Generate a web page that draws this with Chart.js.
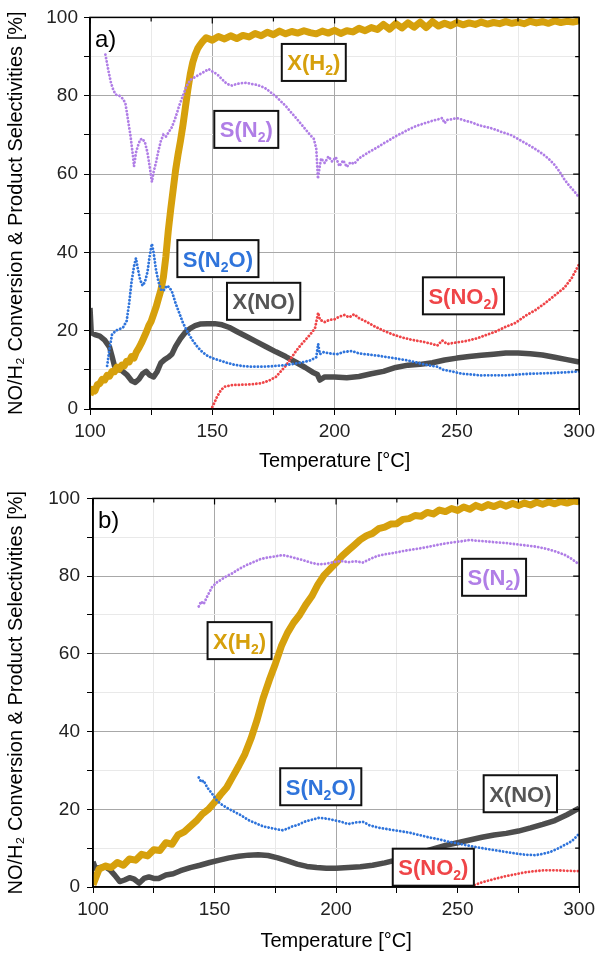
<!DOCTYPE html>
<html>
<head>
<meta charset="utf-8">
<script src="https://cdn.jsdelivr.net/npm/chart.js@4.4.1/dist/chart.umd.min.js"></script>
<style>
  html, body { margin: 0; padding: 0; background: #fff; }
  canvas { display: block; }
</style>
</head>
<body>
<canvas id="chartA" width="600" height="480"></canvas>
<canvas id="chartB" width="600" height="479"></canvas>
<script>
var GOLD = '#D6A00C', GREY = '#4D4D4D', PURPLE = '#B07EE6', BLUE = '#2F74DB', RED = '#EF4548';
var FONT = 'Arial, "Liberation Sans", sans-serif';

var xTicks = [100, 150, 200, 250, 300];
var yTicks = [0, 20, 40, 60, 80, 100];

// ---- panel a) ----
var aH2T = [100,101,102,103,104,105,106,107,108,109,110,111,112,113,114,115,116,117,118,119,120,121,122,123,124,125,126,127,128,129,130,131,132,133,134,135,136,137,138,139,140,141,142,143,144,145,146,
  147.5,150,152.5,155,157.5,160,162.5,165,167.5,170,172.5,175,177.5,180,182.5,185,187.5,190,192.5,195,197.5,200,202.5,205,207.5,210,212.5,215,217.5,220,222.5,225,227.5,230,232.5,235,237.5,240,242.5,245,247.5,250,252.5,255,257.5,260,262.5,265,267.5,270,272.5,275,277.5,280,282.5,285,287.5,290,292.5,295,297.5,300];
var aH2 = [3.6,5.0,4.6,6.2,6.5,7.6,7.4,8.6,8.4,9.6,9.5,10.7,10.2,11.2,11.0,12.2,12.0,13.4,13.0,14.6,15.6,16.8,18.2,19.6,21.2,22.4,24.2,26.0,28.2,30.4,33.6,38.8,45.5,51.0,56.0,61.0,65.0,68.5,72.5,77.0,81.5,85.5,88.5,90.5,92.0,93.0,93.8,
  94.8,94.2,95.1,94.5,95.3,94.6,95.4,95.0,95.9,95.3,96.2,95.6,96.5,95.8,96.4,96.0,96.6,96.1,95.8,96.5,96.0,96.7,95.9,96.6,96.3,97.2,96.6,97.4,96.9,98.2,97.0,98.4,97.3,98.6,97.5,98.8,97.4,98.9,97.8,98.5,97.9,98.7,98.1,98.6,98.2,98.8,98.3,98.7,98.4,98.9,98.5,98.8,98.4,99.0,98.6,98.9,98.5,99.1,98.7,99.0,98.8,99.1];

var aNOT = [100,100.5,102,104,106,108,109,110,111,113,115,117,118.5,120,121.5,123,124.5,126,127.5,129,130.5,132,133.5,135,137,139,141,143,145,148,151,154,157,160,164,168,172,176,180,184,188,191,193,194,196,200,205,210,215,220,225,230,235,240,245,250,255,260,265,270,275,280,285,290,295,300];
var aNO = [25.8,19.5,19.0,18.6,17.6,15.8,13.5,11.0,10.2,9.8,8.8,7.2,6.8,7.6,9.0,9.6,8.6,8.2,9.6,11.8,12.6,13.2,14.0,16.0,18.0,19.6,20.6,21.3,21.7,21.8,21.8,21.5,20.8,19.8,18.5,17.2,15.9,14.6,13.4,12.0,10.6,9.4,8.8,7.4,8.2,8.2,8.0,8.3,9.0,9.6,10.6,11.2,11.4,11.8,12.5,13.0,13.4,13.7,14.0,14.3,14.3,14.1,13.8,13.2,12.6,12.0];

var aN2T = [106.3,107.5,108.5,109.5,110.5,112,113.5,114.5,115.5,116.5,117.5,118,118.8,119.5,120.5,121.5,122.5,123.5,124.5,125.3,126,127,128,129,130,131,132,133.5,135,136.5,138,139.5,141,143,145,147,148.5,150,152,154,156,158,160,162,164,166,168,170,172,174,176,178,180,182,184,186,188,190,191.5,192.5,193.2,193.8,194.5,196,197.5,199,200.5,202,203.5,205,206.5,208,210,212,214,216,218,220,222,224,226,228,230,232,234,236,238,240,242,244,245,246,248,250,252,254,256,258,260,262,264,266,268,270,272,274,276,278,280,282,284,286,288,290,292,294,296,298,300];
var aN2 = [90.5,86.5,83.5,81.5,80.3,80.0,79.2,78.0,74.0,70.0,65.0,62.0,65.5,67.0,68.8,69.0,68.0,65.5,61.5,58.0,60.5,63.0,66.0,68.5,70.0,69.5,70.5,72.0,74.5,77.5,80.0,82.5,84.0,84.8,85.5,86.2,86.8,86.2,85.5,84.2,83.0,82.6,83.0,83.2,83.3,83.0,82.8,82.4,81.8,80.8,79.8,78.6,77.4,75.9,74.5,73.0,71.5,70.0,69.0,66.5,58.8,61.5,64.0,62.8,64.5,63.2,64.3,62.0,63.5,61.8,63.0,62.6,64.0,64.8,65.6,66.3,67.0,67.8,68.5,69.3,70.0,70.6,71.3,71.9,72.4,72.8,73.2,73.6,73.9,74.3,73.0,73.8,74.0,74.3,73.9,73.5,73.2,72.7,72.3,72.0,71.7,71.3,70.8,70.4,70.0,69.3,68.6,67.9,67.2,66.4,65.6,64.7,63.6,62.3,60.6,58.6,57.0,55.6,54.0];

var aN2OT = [107,108,109,110.5,112,113.5,115,116,117,118,118.8,119.5,120.5,121.5,122.5,123.5,124.5,125.3,126,127,128,129,130,131.5,132.5,133.5,135,136.5,138,140,142,144,146,148,150,153,156,159,162,166,170,174,178,182,186,190,192.5,193.3,194,195.5,198,201,204,207,210,214,218,222,226,230,234,238,242,244.5,248,252,256,260,265,270,275,280,285,290,295,300];
var aN2O = [11.0,15.5,19.0,20.0,20.4,20.8,22.5,27.0,32.5,36.5,38.5,36.0,33.0,31.5,32.5,35.0,39.5,42.2,40.0,35.5,32.5,30.5,30.2,31.5,31.0,30.0,27.0,24.5,22.0,19.5,17.5,15.8,14.5,13.6,13.0,12.4,11.8,11.3,11.0,10.8,10.8,10.9,11.1,11.4,11.8,12.4,13.2,16.6,14.0,14.5,14.2,14.0,14.6,14.8,14.2,13.9,13.6,13.2,12.8,12.4,11.8,11.2,10.8,10.0,9.6,9.0,8.8,8.6,8.6,8.6,8.8,9.0,9.1,9.2,9.4,9.6];

var aNO2T = [150,151,152,153.5,155,158,162,166,170,173,176,178,180,182,184,186,188,190,192,193.3,194,196,198,200,202,204,206,208,210,213,216,220,224,228,232,236,240,242,244,246,250,254,258,262,266,270,274,278,282,286,290,294,297,300];
var aNO2 = [0.5,1.8,3.2,4.8,5.7,6.1,6.2,6.3,6.6,7.2,8.2,9.6,11.0,12.8,14.6,16.2,17.6,19.0,20.6,24.6,22.8,22.2,22.8,22.9,23.6,24.0,23.4,24.2,23.2,22.3,21.2,20.0,19.0,18.2,17.6,17.2,16.6,16.2,17.5,16.6,17.0,17.4,18.0,18.9,19.8,21.0,22.0,23.8,25.2,27.0,29.0,31.0,33.5,37.0];

// ---- panel b) ----
var bH2T = [100,102.5,105,107.5,110,112.5,115,117.5,120,122.5,125,127.5,130,132.5,135,137.5,140,142.5,145,147.5,150,152.5,155,157.5,160,162.5,165,167.5,170,172.5,175,177.5,180,182.5,185,187.5,190,192.5,195,197.5,200,202.5,205,207.5,210,212.5,215,217.5,220,222.5,225,227.5,230,232.5,235,237.5,240,242.5,245,247.5,250,252.5,255,257.5,260,262.5,265,267.5,270,272.5,275,277.5,280,282.5,285,287.5,290,292.5,295,297.5,300];
var bH2 = [0.6,4.6,5.4,5.0,6.3,5.6,7.2,6.9,8.4,8.0,9.6,9.4,11.4,11.0,13.4,14.2,15.6,17.0,18.8,20.0,21.8,23.8,25.6,28.4,31.2,34.2,38.2,43.0,48.6,53.2,57.4,62.0,65.4,68.0,70.0,72.6,74.8,77.8,80.2,81.8,83.4,85.2,86.6,88.0,89.4,90.4,91.0,92.2,92.6,93.4,93.5,94.6,94.8,95.6,95.4,96.4,96.0,97.0,96.6,97.4,96.9,97.8,97.2,98.2,97.6,98.4,97.9,98.6,98.0,98.7,98.2,98.8,98.3,99.0,98.5,99.1,98.6,99.2,98.8,99.3,99.1];

var bNOT = [100,101,103,105,107,109,111,113,115,117,119,121,123,125,127,130,133,136,140,144,148,152,156,160,164,168,172,176,180,184,188,192,196,200,205,210,215,220,225,230,235,240,245,250,255,260,265,270,275,280,285,290,295,300];
var bNO = [6.5,4.8,5.0,5.2,4.4,3.0,1.4,1.8,2.4,2.0,1.0,2.2,2.6,2.2,2.2,3.1,3.4,4.2,5.0,5.6,6.3,6.9,7.5,7.9,8.2,8.3,8.1,7.5,6.7,5.9,5.3,5.0,4.8,4.8,5.0,5.2,5.6,6.2,7.0,7.9,8.9,9.8,10.7,11.4,12.1,12.8,13.4,13.8,14.4,15.2,16.1,17.1,18.6,20.3];

var bN2T = [143.5,144.5,145.5,147,149,151,153,155,157,160,163,166,169,172,175,178,181,184,187,190,193,196,199,202,205,208,211,214,217,220,224,228,232,236,240,244,248,252,255,258,262,266,270,274,278,282,286,290,294,297,300];
var bN2 = [72.2,73.5,72.8,74.8,77.2,78.4,79.2,80.0,80.6,81.8,82.8,83.6,84.4,84.8,85.1,85.4,85.0,84.5,84.0,83.4,83.0,83.2,83.6,83.9,83.6,83.8,83.5,84.4,85.2,85.6,86.0,86.5,86.9,87.3,87.8,88.3,88.7,89.0,89.3,89.1,88.9,88.7,88.5,88.2,87.9,87.6,87.1,86.4,85.5,84.4,83.0];

var bN2OT = [143.5,144.5,145.5,147,149,151,153,155,158,161,164,167,170,173,176,178,180,182,184,187,190,193,196,199,202,205,208,211,214,218,222,226,230,234,238,242,246,250,254,258,262,266,270,274,278,282,285,288,291,294,297,300];
var bN2O = [28.2,27.0,27.4,25.6,24.0,22.2,21.2,20.4,19.4,18.4,17.2,16.4,15.6,15.2,14.8,14.6,15.0,15.6,15.9,16.8,17.3,17.8,17.6,17.2,16.8,16.2,16.6,16.8,15.8,15.2,14.8,14.4,14.0,13.4,12.8,12.3,11.7,11.2,10.7,10.2,9.8,9.4,9.0,8.6,8.3,8.2,8.5,9.0,9.8,10.8,11.8,13.7];

var bNO2T = [257,260,263,266,270,274,278,282,286,290,294,298,300];
var bNO2 = [0.5,1.2,1.7,2.2,2.8,3.3,3.8,4.1,4.3,4.3,4.2,4.1,4.1];

// label boxes: text (underscore = subscript char), centre in data units
var aLabels = [
  { text: 'X(H_2)', x: 191.5, y: 88.5, color: GOLD },
  { text: 'S(N_2)', x: 163.9, y: 71.4, color: PURPLE },
  { text: 'S(N_2O)', x: 152.3, y: 38.4, color: BLUE },
  { text: 'X(NO)', x: 171, y: 27.5, color: '#555' },
  { text: 'S(NO_2)', x: 252.7, y: 28.9, color: RED }
];
var bLabels = [
  { text: 'X(H_2)', x: 160.3, y: 63.4, color: GOLD },
  { text: 'S(N_2)', x: 265, y: 79.7, color: PURPLE },
  { text: 'S(N_2O)', x: 193.7, y: 25.8, color: BLUE },
  { text: 'X(NO)', x: 275.8, y: 24, color: '#555' },
  { text: 'S(NO_2)', x: 240, y: 5.1, color: RED }
];

function pts(t, v) { return t.map(function (x, i) { return { x: x, y: v[i] }; }); }
function solid(label, t, v, color, w) {
  return { label: label, data: pts(t, v), borderColor: color, borderWidth: w, pointRadius: 0, tension: 0, borderJoinStyle: 'round' };
}
function dotted(label, t, v, color) {
  return { label: label, data: pts(t, v), borderColor: color, borderWidth: 2.8, pointRadius: 0, tension: 0,
    borderDash: [0.1, 3.4], borderCapStyle: 'round' };
}

function drawBox(ctx, cx, cy, text, color) {
  var big = 'bold 22px ' + FONT, small = 'bold 14px ' + FONT;
  var parts = [];
  for (var i = 0; i < text.length; i++) {
    if (text[i] === '_') { parts.push({ s: text[i + 1], sub: true }); i++; }
    else parts.push({ s: text[i], sub: false });
  }
  var total = 0;
  parts.forEach(function (p) { ctx.font = p.sub ? small : big; p.w = ctx.measureText(p.s).width; total += p.w; });
  var w = total + 11, h = 37;
  ctx.save();
  ctx.fillStyle = '#fff';
  ctx.fillRect(cx - w / 2, cy - h / 2, w, h);
  ctx.lineWidth = 2;
  ctx.strokeStyle = '#111';
  ctx.strokeRect(cx - w / 2, cy - h / 2, w, h);
  ctx.fillStyle = color;
  ctx.textBaseline = 'alphabetic';
  ctx.textAlign = 'left';
  var x = cx - total / 2, base = cy + 8;
  parts.forEach(function (p) {
    ctx.font = p.sub ? small : big;
    ctx.fillText(p.s, x, p.sub ? base + 5 : base);
    x += p.w;
  });
  ctx.restore();
}

function decor(labels, panel) {
  return {
    id: 'decor',
    afterDatasetsDraw: function (chart) {
      var ctx = chart.ctx, xs = chart.scales.x, ys = chart.scales.y, a = chart.chartArea;
      labels.forEach(function (l) { drawBox(ctx, xs.getPixelForValue(l.x), ys.getPixelForValue(l.y), l.text, l.color); });
      ctx.save();
      ctx.strokeStyle = '#000';
      ctx.lineWidth = 1.5;
      ctx.strokeRect(a.left, a.top, a.right - a.left, a.bottom - a.top);
      ctx.lineWidth = 1.2;
      ctx.beginPath();
      xs.ticks.forEach(function (t) {
        var px = xs.getPixelForValue(t.value);
        ctx.moveTo(px, a.top); ctx.lineTo(px, a.top + (t.value % 50 ? 4 : 6));
      });
      ys.ticks.forEach(function (t) {
        var py = ys.getPixelForValue(t.value);
        ctx.moveTo(a.right, py); ctx.lineTo(a.right - (t.value % 20 ? 4 : 6), py);
      });
      ctx.stroke();
      ctx.fillStyle = '#000';
      ctx.font = '24px ' + FONT;
      ctx.textBaseline = 'middle';
      ctx.fillText(panel, a.left + 5, a.top + 23);
      ctx.restore();
    }
  };
}

function makeChart(id, datasets, labels, panel, lay) {
  var tickFont = { family: FONT, size: 19 };
  new Chart(document.getElementById(id), {
    type: 'line',
    data: { datasets: datasets },
    options: {
      responsive: false,
      animation: false,
      layout: { padding: { top: lay.top, right: lay.right, left: 0, bottom: 0 } },
      plugins: { legend: { display: false }, tooltip: { enabled: false } },
      scales: {
        x: {
          type: 'linear', min: 100, max: 300,
          afterBuildTicks: function (s) { s.ticks = [100,125,150,175,200,225,250,275,300].map(function (v) { return { value: v }; }); },
          ticks: { autoSkip: false, maxRotation: 0, padding: 5, color: '#222', font: tickFont,
            callback: function (v) { return xTicks.indexOf(v) >= 0 ? String(v) : ''; } },
          grid: { color: function (c) { return c.tick && c.tick.value % 50 === 0 ? '#a8a8a8' : '#e9e9e9'; },
            tickColor: '#000', tickLength: 6 },
          border: { color: '#000', width: 1.5 },
          title: { display: true, text: 'Temperature [°C]', color: '#000', font: { family: FONT, size: 20 },
            padding: { top: 0, bottom: lay.xtpad } },
          afterFit: function (s) { s.height = lay.xh; }
        },
        y: {
          min: 0, max: 100,
          afterBuildTicks: function (s) { s.ticks = [0,10,20,30,40,50,60,70,80,90,100].map(function (v) { return { value: v }; }); },
          ticks: { autoSkip: false, padding: lay.ypad, color: '#222', font: tickFont,
            callback: function (v) { return yTicks.indexOf(v) >= 0 ? String(v) : ''; } },
          grid: { color: function (c) { return c.tick && c.tick.value % 20 === 0 ? '#a8a8a8' : '#e9e9e9'; },
            tickColor: '#000', tickLength: 6 },
          border: { color: '#000', width: 1.5 },
          title: { display: true, text: 'NO/H₂ Conversion & Product Selectivities [%]', color: '#000',
            font: { family: FONT, size: 20 }, padding: { top: 4, bottom: 0 } },
          afterFit: function (s) { s.width = lay.yw; }
        }
      }
    },
    plugins: [decor(labels, panel)]
  });
}

makeChart('chartA', [
  dotted('S(N2)', aN2T, aN2, PURPLE),
  dotted('S(N2O)', aN2OT, aN2O, BLUE),
  dotted('S(NO2)', aNO2T, aNO2, RED),
  solid('X(H2)', aH2T, aH2, GOLD, 7),
  solid('X(NO)', aNOT, aNO, GREY, 5.5)
], aLabels, 'a)', { top: 12, right: 16, yw: 90, xh: 71, xtpad: 7, ypad: 6 });

makeChart('chartB', [
  dotted('S(N2)', bN2T, bN2, PURPLE),
  dotted('S(N2O)', bN2OT, bN2O, BLUE),
  dotted('S(NO2)', bNO2T, bNO2, RED),
  solid('X(H2)', bH2T, bH2, GOLD, 7),
  solid('X(NO)', bNOT, bNO, GREY, 5.5)
], bLabels, 'b)', { top: 13, right: 17, yw: 93, xh: 72, xtpad: 6, ypad: 7 });
</script>
</body>
</html>
